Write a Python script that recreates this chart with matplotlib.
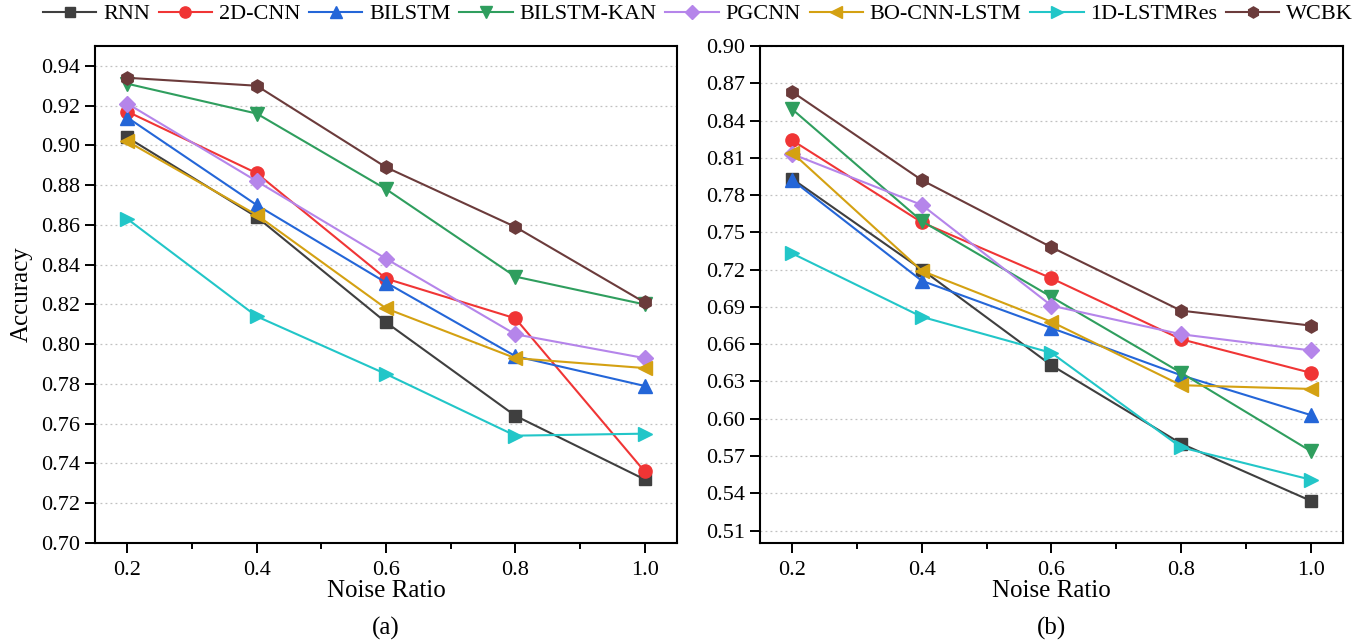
import numpy as np
import matplotlib
matplotlib.use('Agg')
import matplotlib.pyplot as plt
from matplotlib.ticker import MultipleLocator

plt.rcParams['font.family'] = ['Liberation Serif', 'DejaVu Serif']

noise = [0.2, 0.4, 0.6, 0.8, 1.0]
models = ['RNN', '2D-CNN', 'BILSTM', 'BILSTM-KAN', 'PGCNN', 'BO-CNN-LSTM', '1D-LSTMRes', 'WCBK']

# panel (a)
acc_a = {
    'RNN':         [0.904, 0.864, 0.811, 0.764, 0.732],
    '2D-CNN':      [0.917, 0.886, 0.833, 0.813, 0.736],
    'BILSTM':      [0.914, 0.870, 0.831, 0.794, 0.779],
    'BILSTM-KAN':  [0.931, 0.916, 0.878, 0.834, 0.820],
    'PGCNN':       [0.921, 0.882, 0.843, 0.805, 0.793],
    'BO-CNN-LSTM': [0.902, 0.865, 0.818, 0.793, 0.788],
    '1D-LSTMRes':  [0.863, 0.814, 0.785, 0.754, 0.755],
    'WCBK':        [0.934, 0.930, 0.889, 0.859, 0.821],
}

# panel (b)
acc_b = {
    'RNN':         [0.793, 0.720, 0.643, 0.580, 0.534],
    '2D-CNN':      [0.824, 0.758, 0.713, 0.664, 0.637],
    'BILSTM':      [0.792, 0.711, 0.673, 0.635, 0.603],
    'BILSTM-KAN':  [0.849, 0.759, 0.698, 0.637, 0.574],
    'PGCNN':       [0.813, 0.772, 0.691, 0.668, 0.655],
    'BO-CNN-LSTM': [0.814, 0.719, 0.678, 0.627, 0.624],
    '1D-LSTMRes':  [0.733, 0.682, 0.653, 0.577, 0.551],
    'WCBK':        [0.863, 0.792, 0.738, 0.687, 0.675],
}

colors = ['#3f3f3f', '#f03535', '#2466d8', '#2f9e5e', '#b585ea', '#d4a112', '#22c6c8', '#6b3b3b']
markers = ['s', 'o', '^', 'v', 'D', '<', '>', 'h']
msizes = [8.5, 9.5, 9.5, 9.5, 8.5, 9.5, 9.5, 9.5]

fig = plt.figure(figsize=(13.58, 6.43), dpi=100)
ax1 = fig.add_axes([0.070, 0.1555, 0.4285, 0.773])
ax2 = fig.add_axes([0.5596, 0.1555, 0.4294, 0.773])


def draw(ax, data, ylim, ystep, label):
    for m, c, mk, ms in zip(models, colors, markers, msizes):
        ax.plot(noise, data[m], color=c, marker=mk, markersize=ms, lw=1.5,
                label=m, zorder=3)
    ax.set_xlim(0.15, 1.05)
    ax.set_ylim(*ylim)
    ax.xaxis.set_major_locator(MultipleLocator(0.2))
    ax.xaxis.set_minor_locator(MultipleLocator(0.1))
    ax.yaxis.set_major_locator(MultipleLocator(ystep))
    ax.yaxis.set_major_formatter(plt.FormatStrFormatter('%.2f'))
    ax.xaxis.set_major_formatter(plt.FormatStrFormatter('%.1f'))
    ax.grid(axis='y', linestyle=(0, (1.5, 2.5)), color='#c0c0c0', lw=0.9, zorder=0)
    ax.tick_params(axis='both', which='major', direction='out', length=7, width=1.4,
                   labelsize=16, pad=4)
    ax.tick_params(axis='x', which='minor', direction='out', length=4.5, width=1.4)
    ax.tick_params(axis='x', which='major', pad=6)
    for s in ax.spines.values():
        s.set_linewidth(1.5)
    ax.set_xlabel('Noise Ratio', fontsize=18, labelpad=0)
    box = ax.get_position()
    fig.text((box.x0 + box.x1) / 2, 0.022, label, ha='center', va='center',
             fontsize=18)


draw(ax1, acc_a, (0.70, 0.95), 0.02, '(a)')
draw(ax2, acc_b, (0.50, 0.90), 0.03, '(b)')
ax1.set_ylabel('Accuracy', fontsize=18, labelpad=6)

handles, labels = ax1.get_legend_handles_labels()
fig.legend(handles, labels, loc='center', bbox_to_anchor=(0.514, 0.978), ncol=8,
           frameon=False, fontsize=16, handlelength=2.4, handletextpad=0.3,
           columnspacing=0.4, borderaxespad=0, markerscale=0.85)

fig.savefig('out.png', dpi=100)
